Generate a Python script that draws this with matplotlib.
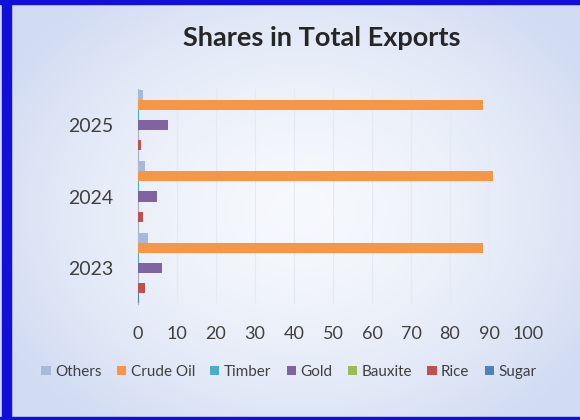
import numpy as np
import matplotlib
matplotlib.use("Agg")
import matplotlib.pyplot as plt
from matplotlib.patches import Rectangle

years = ["2023", "2024", "2025"]
series = ["Sugar", "Rice", "Bauxite", "Gold", "Timber", "Crude Oil", "Others"]
sugar = [0.2, 0.1, 0.1]
rice = [1.8, 1.2, 0.8]
bauxite = [0.1, 0.1, 0.1]
gold = [6.2, 4.9, 7.7]
timber = [0.3, 0.2, 0.2]
crude_oil = [88.5, 91.0, 88.5]
others = [2.6, 1.8, 1.3]
values = [sugar, rice, bauxite, gold, timber, crude_oil, others]
colors = ["#4F81BD", "#C0504D", "#9BBB59", "#8064A2", "#4BACC6", "#F79646", "#A9B8D4"]
x_ticks = [0, 10, 20, 30, 40, 50, 60, 70, 80, 90, 100]

W, H = 580, 420
fig = plt.figure(figsize=(W / 100, H / 100), dpi=100)
plt.rcParams['font.family'] = ['Lato', 'DejaVu Sans']

# radial gradient background
bg = fig.add_axes([0, 0, 1, 1], zorder=-10)
yy, xx = np.mgrid[0:H, 0:W]
r = np.sqrt(((xx - 300) / 340.0) ** 2 + ((yy - 210) / 270.0) ** 2)
r = np.clip(r, 0, 1)
c0 = np.array([0.965, 0.975, 0.99])
c1 = np.array([0.82, 0.86, 0.95])
t = r[..., None] ** 1.6
img = c0[None, None, :] * (1 - t) + c1[None, None, :] * t
bg.imshow(img, extent=[0, W, H, 0], aspect="auto")
bg.set_xlim(0, W)
bg.set_ylim(H, 0)
bg.axis("off")
# blue frame
border = "#1010D8"
bg.add_patch(Rectangle((0, 0), W, 4, color=border))
bg.add_patch(Rectangle((2, 0), 9, H, color=border))
bg.add_patch(Rectangle((0, H - 3), W, 3, color=border))

# plot area: x 0..100 spans px 138..528, categories span px 89..304
ax = fig.add_axes([138 / W, 1 - 304 / H, (528 - 138) / W, (304 - 89) / H])
ax.set_facecolor("none")

n = len(series)
bar_h = 0.14
ypos = np.arange(len(years))
for i, (name, vals, col) in enumerate(zip(series, values, colors)):
    off = (i - (n - 1) / 2) * bar_h
    ax.barh(ypos + off, vals, height=bar_h, color=col, label=name, zorder=3)

ax.set_xlim(0, 100)
ax.set_ylim(-0.5, 2.5)
ax.set_xticks(x_ticks)
ax.set_xticklabels([str(t) for t in x_ticks])
ax.set_yticks(ypos)
ax.set_yticklabels(years)
ax.tick_params(axis="x", length=0, pad=16, labelsize=13, labelcolor="#404040")
ax.tick_params(axis="y", length=0, pad=18, labelsize=14, labelcolor="#404040")
ax.grid(axis="x", color="#E4EAF3", linewidth=0.8, zorder=0)
for s in ["top", "right", "bottom"]:
    ax.spines[s].set_visible(False)
ax.spines["left"].set_color("#A8B0C0")
ax.spines["left"].set_linewidth(0.8)

fig.text(322 / W, 1 - 38 / H, "Shares in Total Exports", ha="center", va="center",
         fontsize=19.5, fontweight="bold", color="#262626")

handles, labels = ax.get_legend_handles_labels()
fig.legend(handles[::-1], labels[::-1], loc="center", bbox_to_anchor=(289 / W, 1 - 372 / H),
           ncol=7, frameon=False, fontsize=11, handlelength=0.6, handleheight=0.6,
           handletextpad=0.3, columnspacing=1.0, labelcolor="#404040")

fig.savefig("out.png", dpi=100)
